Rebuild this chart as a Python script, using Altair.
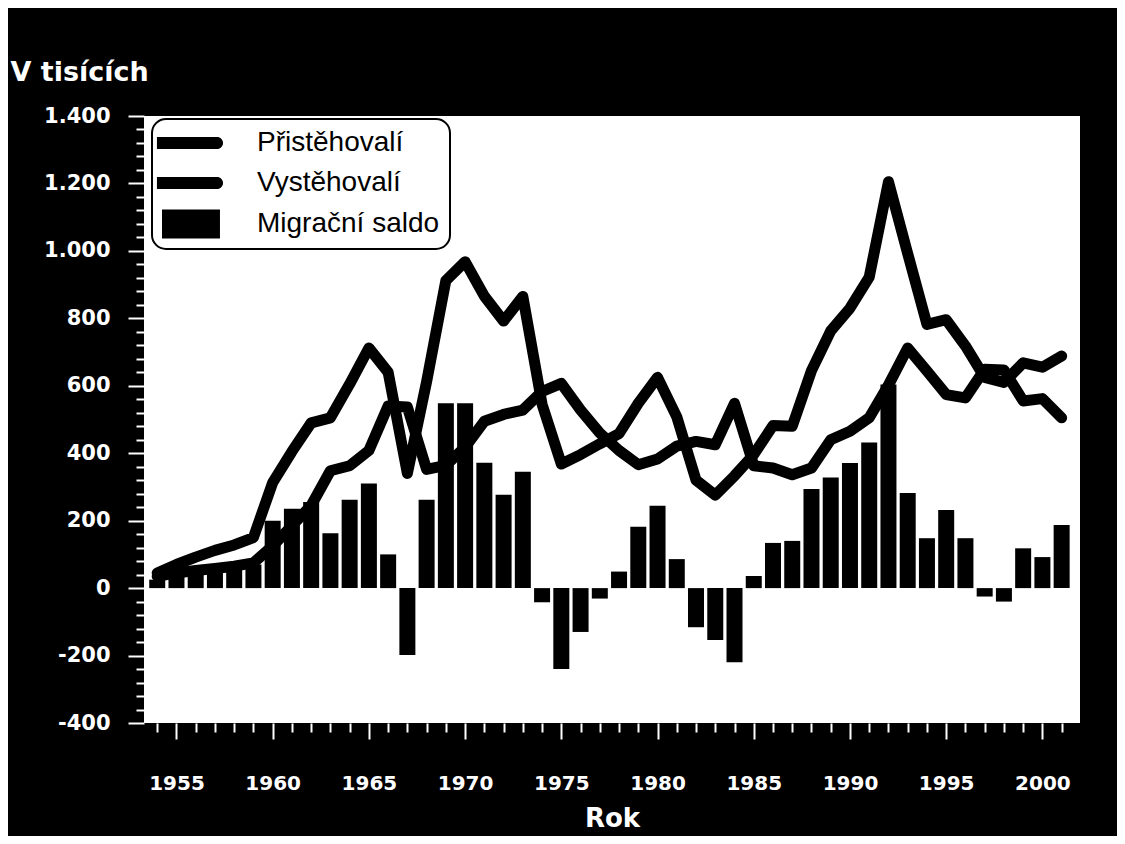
import altair as alt
import pandas as pd

years = list(range(1954, 2002))

immigrants = [45, 70, 92, 112, 128, 150, 313, 405, 490, 505, 605, 712, 640, 340,
              612, 912, 968, 866, 792, 865, 545, 368, 396, 428, 458, 548, 625, 508,
              320, 276, 333, 396, 482, 480, 645, 763, 830, 922, 1205, 992, 782, 796,
              718, 625, 610, 668, 655, 688]

emigrants = [35, 45, 52, 58, 65, 75, 125, 185, 245, 348, 363, 408, 540, 537,
             352, 364, 418, 495, 515, 528, 583, 607, 528, 460, 408, 366, 383, 421,
             435, 425, 548, 363, 356, 336, 356, 440, 465, 505, 602, 712, 644, 574,
             564, 649, 647, 555, 562, 505]

saldo = [25, 45, 50, 55, 62, 70, 200, 235, 255, 163, 262, 310, 100, -198,
         262, 548, 548, 372, 277, 345, -42, -240, -130, -31, 49, 182, 244, 86,
         -116, -154, -220, 36, 134, 140, 294, 328, 371, 432, 604, 282, 148, 232,
         148, -25, -40, 118, 92, 187]

series_names = ["Přistěhovalí", "Vystěhovalí", "Migrační saldo"]
x_ticks = years
y_ticks = list(range(-400, 1401, 40))

lines_df = pd.DataFrame({
    "year": years + years,
    "value": immigrants + emigrants,
    "series": [series_names[0]] * len(years) + [series_names[1]] * len(years),
})
bars_df = pd.DataFrame({"year": years, "value": saldo})
legend_df = pd.DataFrame({"series": series_names})

x_scale = alt.Scale(domain=[1953.573, 2001.694], nice=False, zero=False)
y_scale = alt.Scale(domain=[-400, 1400], nice=False)

x_axis = alt.Axis(
    values=x_ticks,
    labelExpr="datum.value % 5 === 0 ? toString(datum.value) : ''",
    tickSize={"condition": {"test": "datum.value % 5 === 0", "value": 16}, "value": 9},
    tickColor="white", tickWidth=2, domain=False, grid=False,
    labelColor="white", labelFont="DejaVu Sans", labelFontWeight="bold", labelFontSize=20,
    labelPadding=34, labelOverlap=False, labelFlush=False, labelBaseline="top",
    title="Rok", titleColor="white", titleFont="DejaVu Sans", titleFontWeight="bold",
    titleFontSize=26, titlePadding=12,
)

y_axis = alt.Axis(
    values=y_ticks,
    labelExpr="datum.value % 200 === 0 ? replace(replace(format(datum.value, ','), ',', '.'), '\u2212', '-') : ''",
    tickSize={"condition": {"test": "datum.value % 200 === 0", "value": 16}, "value": 8},
    tickColor="white", tickWidth=2, domain=False, grid=False,
    labelColor="white", labelFont="DejaVu Sans", labelFontWeight="bold", labelFontSize=21,
    labelPadding=18, labelOverlap=False, labelFlush=False,
    title="V tisících", titleAngle=0, titleAlign="left", titleBaseline="alphabetic",
    titleX=-134, titleY=-36, titleColor="white", titleFont="DejaVu Sans",
    titleFontWeight="bold", titleFontSize=27,
)

line_path = "M-1.36,-0.43L2.93,-0.43A0.43,0.43,0,0,1,2.93,0.43L-1.36,0.43Z"
rect_path = "M-1.0,-1.04L3.14,-1.04L3.14,1.04L-1.0,1.04Z"

bars = alt.Chart(bars_df).mark_bar(color="black", size=16).encode(
    x=alt.X("year:Q", scale=x_scale, axis=x_axis),
    y=alt.Y("value:Q", scale=y_scale, axis=y_axis),
    y2=alt.datum(0),
)

lines = alt.Chart(lines_df).mark_line(
    color="black", strokeWidth=11, strokeJoin="round", strokeCap="round"
).encode(
    x=alt.X("year:Q", scale=x_scale, axis=x_axis),
    y=alt.Y("value:Q", scale=y_scale, axis=y_axis),
    detail="series:N",
)

legend_layer = alt.Chart(legend_df).mark_point(filled=True, color="black", opacity=1).encode(
    shape=alt.Shape(
        "series:N",
        scale=alt.Scale(domain=series_names, range=[line_path, line_path, rect_path]),
        legend=alt.Legend(
            title=None, orient="none", legendX=8, legendY=3, padding=10,
            cornerRadius=14, strokeColor="black", fillColor="white",
            symbolSize=784, symbolStrokeWidth=0, symbolFillColor="black",
            labelFont="Liberation Sans", labelFontSize=28, labelColor="black",
            labelOffset=67, labelLimit=400, rowPadding=12,
        ),
    )
).transform_filter("false")

chart = alt.layer(bars, lines, legend_layer).properties(
    width=936, height=607, background="black",
    padding={"left": 136, "top": 108, "right": 37, "bottom": 113},
    autosize=alt.AutoSizeParams(type="none"),
    view=alt.ViewBackground(fill="white", stroke="white", strokeWidth=0),
).configure_view(fill="white"
).configure_legend(strokeWidth=2)

chart.save("out.html", embed_options={"renderer": "svg", "actions": False})
